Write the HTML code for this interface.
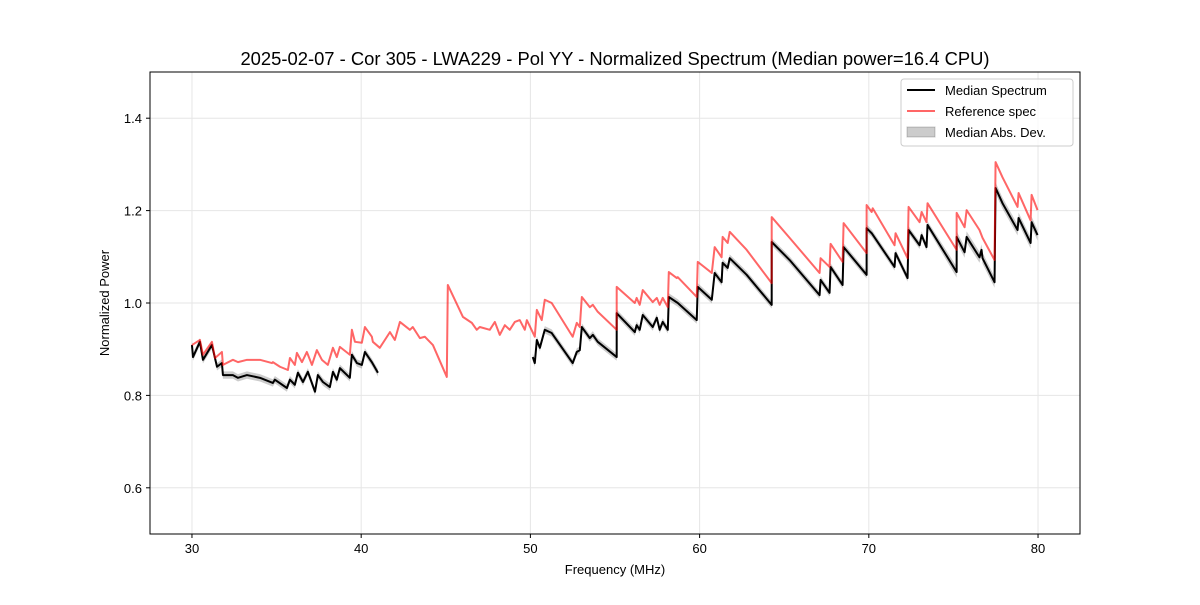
<!DOCTYPE html>
<html><head><meta charset="utf-8"><style>
body{margin:0;background:#fff;}
svg text{font-family:"Liberation Sans","DejaVu Sans",sans-serif;fill:#000;}
</style></head><body>
<svg id="chart" width="1200" height="600" xmlns="http://www.w3.org/2000/svg">
<rect width="1200" height="600" fill="#fff"/>
<text x="615" y="65" font-size="18.4" text-anchor="middle">2025-02-07 - Cor 305 - LWA229 - Pol YY - Normalized Spectrum (Median power=16.4 CPU)</text>
<g id="grid"></g>
<g id="plot"></g>
<rect x="150" y="72" width="930" height="462" fill="none" stroke="#000" stroke-width="1"/>
<g id="ticks"></g>
<text x="615" y="574" font-size="13" text-anchor="middle">Frequency (MHz)</text>
<text transform="translate(109,303) rotate(-90)" font-size="13" text-anchor="middle">Normalized Power</text>
<g>
<rect x="901" y="79" width="172" height="67" rx="3" fill="#fff" fill-opacity="0.8" stroke="#ccc"/>
<line x1="907" y1="90" x2="935" y2="90" stroke="#000" stroke-width="2"/>
<text x="945" y="95" font-size="13">Median Spectrum</text>
<line x1="907" y1="111" x2="935" y2="111" stroke="#ff0000" stroke-opacity="0.6" stroke-width="2"/>
<text x="945" y="116" font-size="13">Reference spec</text>
<rect x="907" y="127" width="28" height="10" fill="#000" fill-opacity="0.2" stroke="#000" stroke-opacity="0.2"/>
<text x="945" y="137" font-size="13">Median Abs. Dev.</text>
</g>
</svg>
<script>
const xTicks=[30,40,50,60,70,80];
const yTicks=[0.6,0.8,1.0,1.2,1.4];
const yTickLabels=["0.6","0.8","1.0","1.2","1.4"];
const refFreq=[30.00,30.47,30.65,31.18,31.36,31.77,31.83,32.42,32.72,33.25,34.02,34.73,34.78,35.20,35.67,35.79,36.08,36.20,36.50,36.79,37.09,37.38,37.68,38.03,38.33,38.56,38.74,39.33,39.45,39.63,40.04,40.22,40.63,40.69,41.10,41.70,41.99,42.29,42.88,43.05,43.47,43.76,44.24,45.06,45.12,46.01,46.54,46.83,47.01,47.60,47.90,48.19,48.49,48.78,49.08,49.37,49.67,49.79,50.26,50.38,50.67,50.85,51.26,52.50,52.74,52.92,53.04,53.51,53.69,53.98,55.10,55.10,56.17,56.28,56.46,56.64,57.23,57.47,57.64,57.82,58.12,58.18,58.65,58.71,59.83,59.89,60.72,60.89,61.30,61.36,61.66,61.78,62.78,64.26,64.26,65.32,67.09,67.15,67.68,67.74,68.45,68.51,69.87,69.87,70.17,70.23,71.52,71.58,72.29,72.35,73.00,73.12,73.41,73.47,75.19,75.19,75.66,75.78,76.54,76.72,77.43,77.49,77.90,78.79,78.85,79.56,79.62,79.97];
const refPower=[0.909,0.920,0.888,0.916,0.881,0.894,0.866,0.877,0.872,0.877,0.877,0.870,0.872,0.862,0.855,0.881,0.866,0.892,0.872,0.894,0.866,0.898,0.877,0.866,0.903,0.883,0.905,0.888,0.942,0.916,0.914,0.948,0.927,0.916,0.903,0.937,0.920,0.959,0.942,0.948,0.924,0.927,0.909,0.840,1.039,0.970,0.957,0.942,0.948,0.942,0.959,0.931,0.952,0.942,0.959,0.963,0.942,0.963,0.927,0.985,0.963,1.007,1.000,0.927,0.957,0.948,1.013,0.991,0.996,0.981,0.942,1.035,1.000,1.011,0.996,1.028,1.002,1.011,0.996,1.011,0.991,1.067,1.054,1.056,1.013,1.089,1.065,1.121,1.099,1.143,1.130,1.154,1.115,1.043,1.186,1.141,1.065,1.097,1.078,1.128,1.089,1.173,1.108,1.212,1.197,1.205,1.125,1.151,1.097,1.208,1.175,1.197,1.175,1.216,1.115,1.195,1.164,1.201,1.158,1.141,1.093,1.305,1.272,1.208,1.238,1.179,1.234,1.201];
const medFreq=[30.00,30.06,30.47,30.65,31.18,31.48,31.77,31.83,32.42,32.72,33.25,34.02,34.78,34.90,35.61,35.79,36.08,36.26,36.56,36.85,37.27,37.44,37.74,38.15,38.33,38.56,38.74,39.33,39.45,39.75,40.04,40.22,40.63,40.99,null,50.14,50.26,50.38,50.56,50.85,51.26,52.50,52.74,52.92,53.04,53.51,53.69,53.98,55.10,55.10,56.17,56.28,56.46,56.64,57.23,57.47,57.64,57.82,58.12,58.18,58.71,59.83,59.89,60.72,60.89,61.30,61.36,61.66,61.78,62.78,64.26,64.26,65.32,67.09,67.15,67.68,67.74,68.45,68.51,69.87,69.87,70.17,71.52,71.58,72.29,72.35,73.00,73.12,73.41,73.47,75.19,75.19,75.66,75.78,76.54,76.66,76.72,77.43,77.49,77.90,78.79,78.85,79.56,79.62,79.97];
const medPower=[0.909,0.883,0.916,0.877,0.909,0.862,0.870,0.844,0.844,0.838,0.844,0.838,0.827,0.834,0.816,0.834,0.823,0.849,0.829,0.851,0.808,0.844,0.829,0.818,0.851,0.834,0.859,0.838,0.888,0.870,0.866,0.894,0.872,0.849,null,0.883,0.870,0.920,0.903,0.942,0.935,0.870,0.894,0.898,0.948,0.924,0.931,0.916,0.883,0.978,0.937,0.952,0.942,0.974,0.948,0.968,0.942,0.959,0.942,1.013,1.000,0.963,1.035,1.007,1.065,1.045,1.087,1.076,1.097,1.061,0.996,1.132,1.093,1.017,1.050,1.022,1.078,1.039,1.121,1.061,1.162,1.151,1.078,1.108,1.054,1.158,1.125,1.147,1.121,1.169,1.067,1.143,1.110,1.143,1.099,1.115,1.097,1.045,1.249,1.216,1.158,1.184,1.130,1.175,1.147];
const madDev=[0.008,0.012]; // MAD below / above 75 MHz

const NS='http://www.w3.org/2000/svg';
const X0=150,X1=1080,Y0=534,Y1=72,XMIN=27.52,XMAX=82.48,YMIN=0.5,YMAX=1.5;
const sx=f=>X0+(f-XMIN)/(XMAX-XMIN)*(X1-X0);
const sy=v=>Y0-(v-YMIN)/(YMAX-YMIN)*(Y0-Y1);
function mk(tag,attrs,parent){const e=document.createElementNS(NS,tag);for(const k in attrs)e.setAttribute(k,attrs[k]);parent.appendChild(e);return e;}
const grid=document.getElementById('grid'),ticks=document.getElementById('ticks'),plot=document.getElementById('plot');
xTicks.forEach(t=>{
  const g=mk('line',{x1:sx(t),x2:sx(t),y1:Y1,y2:Y0,stroke:'#e6e6e6','stroke-width':1},grid);
  
  
  const tk=mk('line',{x1:sx(t),x2:sx(t),y1:Y0,y2:Y0+4,stroke:'#000'},ticks);
  
  
  const tl=mk('text',{x:sx(t),y:Y0+19,'font-size':13,'text-anchor':'middle'},ticks);
  tl.textContent=String(t);
  
  
});
yTicks.forEach((t,i)=>{
  const g=mk('line',{x1:X0,x2:X1,y1:sy(t),y2:sy(t),stroke:'#e6e6e6','stroke-width':1},grid);
  
  
  const tk=mk('line',{x1:X0-4,x2:X0,y1:sy(t),y2:sy(t),stroke:'#000'},ticks);
  
  
  const tl=mk('text',{x:X0-8,y:sy(t)+5,'font-size':13,'text-anchor':'end'},ticks);
  tl.textContent=yTickLabels[i];
  
  
});
function segments(fs,vs){const segs=[];let cur=[];fs.forEach((f,i)=>{if(f===null||vs[i]===null){if(cur.length)segs.push(cur);cur=[];}else cur.push([f,vs[i]]);});if(cur.length)segs.push(cur);return segs;}
segments(medFreq,medPower).forEach(seg=>{
  const up=seg.map(p=>sx(p[0])+','+sy(p[1]+(p[0]>75?madDev[1]:madDev[0])));
  const dn=seg.slice().reverse().map(p=>sx(p[0])+','+sy(p[1]-(p[0]>75?madDev[1]:madDev[0])));
  const b=mk('polygon',{points:up.concat(dn).join(' '),fill:'#000','fill-opacity':0.2,stroke:'none'},plot);
  
  
});
segments(medFreq,medPower).forEach(seg=>{
  const l=mk('polyline',{points:seg.map(p=>sx(p[0])+','+sy(p[1])).join(' '),fill:'none',stroke:'#000','stroke-width':2,'stroke-linejoin':'round'},plot);
  
  
});
segments(refFreq,refPower).forEach(seg=>{
  const l=mk('polyline',{points:seg.map(p=>sx(p[0])+','+sy(p[1])).join(' '),fill:'none',stroke:'#ff0000','stroke-opacity':0.6,'stroke-width':2,'stroke-linejoin':'round'},plot);
  
  
});
</script>
</body></html>
